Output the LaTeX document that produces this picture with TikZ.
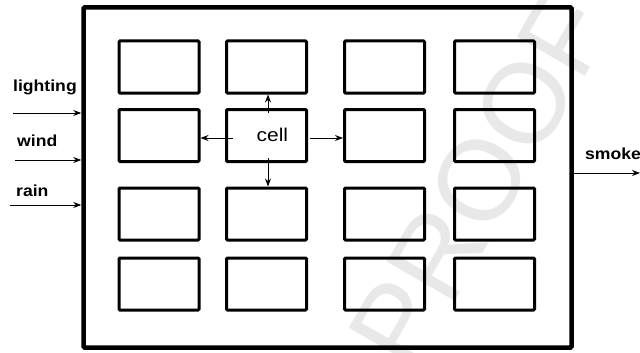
\documentclass[tikz,border=0pt]{standalone}
\usepackage{fontspec}
\usepackage{graphicx}
\setmainfont{Liberation Sans}
\usetikzlibrary{arrows.meta}
\definecolor{wm}{HTML}{E8E8E8}
\tikzset{
  cellbox/.style={draw=black, line width=3pt, minimum width=80pt, minimum height=52pt, inner sep=0pt, rounded corners=1pt},
  framebox/.style={draw=black, line width=4.5pt, minimum width=488pt, minimum height=340pt, inner sep=0pt, rounded corners=1pt},
  arr/.style={line width=1pt, -{Stealth[length=8pt,width=6pt]}},
  lbl/.style={inner sep=0pt, anchor=base west, font=\bfseries\fontsize{16}{18}\selectfont},
  celllbl/.style={inner sep=0pt, anchor=base west, font=\fontsize{18.5}{21}\selectfont},
  watermark/.style={text=wm, font=\fontsize{114}{120}\selectfont, rotate=60, inner sep=0pt}
}
\begin{document}
\begin{tikzpicture}[x=1pt, y=-1pt]
\useasboundingbox (0,0) rectangle (640,353);
\node[watermark] (wmark) at (480,180) {PROOF};
\node[framebox] (frame) at (327.5,177.5) {};
% cells
\foreach \c/\x in {1/159, 2/266.5, 3/384.5, 4/494.5}{
  \foreach \r/\y in {1/67, 2/135.5, 3/214, 4/284}{
    \node[cellbox] (c\r\c) at (\x,\y) {};
  }
}
\node[celllbl] (celltxt) at (256.5,141.5) {\scalebox{1.13}[1]{cell}};
% arrows from the central cell
\coordinate (su) at (268,113);
\coordinate (sl) at (233,138);
\coordinate (sr) at (310,138);
\coordinate (sd) at (268,158);
\draw[arr] (su) -- (su |- c12.south);
\draw[arr] (sl) -- (sl -| c21.east);
\draw[arr] (sr) -- (sr -| c23.west);
\draw[arr] (sd) -- (sd |- c32.north);
% inputs
\node[lbl] (lighting) at (13,91.5) {\scalebox{1.1}[1]{lighting}};
\node[lbl] (wind) at (17,146.5) {\scalebox{1.1}[1]{wind}};
\node[lbl] (rain) at (16,196.5) {\scalebox{1.1}[1]{rain}};
\coordinate (inA) at (13,113);
\coordinate (inB) at (15,160);
\coordinate (inC) at (10,205);
\draw[arr] (inA) -- (inA -| frame.west);
\draw[arr] (inB) -- (inB -| frame.west);
\draw[arr] (inC) -- (inC -| frame.west);
% output
\node[lbl] (smoke) at (585,159) {\scalebox{1.1}[1]{smoke}};
\coordinate (outA) at (640,173);
\draw[arr] (outA -| frame.east) -- (outA);
\end{tikzpicture}
\end{document}
